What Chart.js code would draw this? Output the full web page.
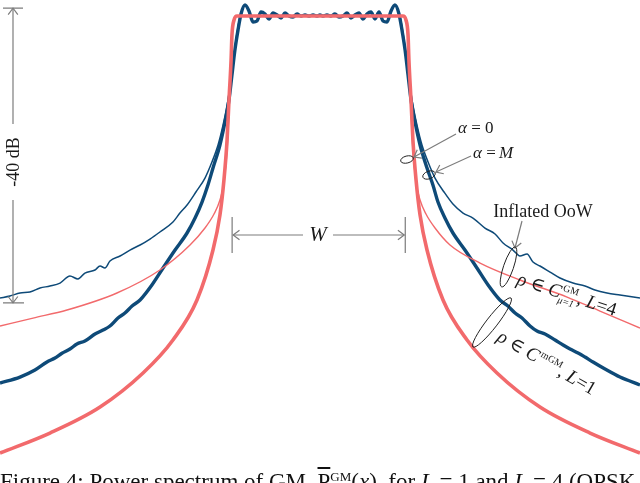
<!DOCTYPE html>
<html>
<head>
<meta charset="utf-8">
<script src="https://cdn.jsdelivr.net/npm/chart.js@4/dist/chart.umd.min.js"></script>
<style>
  html, body { margin: 0; padding: 0; width: 640px; height: 483px; overflow: hidden; background: #fff; }
  #wrap { position: relative; width: 640px; height: 483px; overflow: hidden; }
  #caption {
    position: absolute; left: 0; top: 470px; white-space: nowrap;
    font: 23px/23px 'Liberation Serif', 'DejaVu Serif', serif; color: #111;
  }
  #caption .ol { text-decoration: overline; }
  #caption sup { font-size: 13px; vertical-align: 8px; line-height: 0; }
</style>
</head>
<body>
<div id="wrap">
  <canvas id="psd" width="640" height="483"></canvas>
  <div id="caption">Figure 4: Power spectrum of GM, <span class="ol">P</span><sup>GM</sup>(<i>x</i>), for <i>L</i> = 1 and <i>L</i> = 4 (QPSK,</div>
</div>
<script>
// frequency normalised to the band width W (band edges at +-0.5), PSD in dB
const bandFreq = [-0.431, -0.408, -0.385, -0.362, -0.339, -0.316, -0.293, -0.270, -0.247, -0.224,
  -0.201, -0.178, -0.155, -0.132, -0.109, -0.086, -0.063, -0.040, -0.017, 0,
  0.017, 0.040, 0.063, 0.086, 0.109, 0.132, 0.155, 0.178, 0.201, 0.224,
  0.247, 0.270, 0.293, 0.316, 0.339, 0.362, 0.385, 0.408, 0.431];
const bandDb = [1.55, 0.70, -0.85, -0.70, 0.56, 0.28, -0.42, 0.42, 0.14, -0.28,
  0.42, 0, -0.14, 0.28, 0, 0.14, 0, 0.14, 0, 0.14,
  0, 0.14, 0, 0.28, -0.14, 0, 0.42, -0.28, 0.14, 0.42,
  -0.42, 0.28, 0.56, -0.42, 0.56, -0.70, -0.85, 0.70, 1.55];

// simulated mGM, L = 1 (thick blue)
const mgmSimFreq = [-1.839, -1.724, -1.638, -1.569, -1.523, -1.483, -1.437, -1.397, -1.351, -1.293,
  -1.247, -1.207, -1.161, -1.121, -1.080, -1.034, -0.966, -0.902, -0.833, -0.764,
  -0.718, -0.678, -0.644, -0.615, -0.575, -0.546, -0.523, -0.506, -0.489, -0.471, -0.454,
  ...bandFreq,
  0.454, 0.471, 0.489, 0.506, 0.523, 0.546, 0.575, 0.615, 0.649, 0.678,
  0.718, 0.764, 0.833, 0.902, 0.966, 1.034, 1.080, 1.121, 1.161, 1.207,
  1.247, 1.293, 1.351, 1.397, 1.437, 1.483, 1.523, 1.569, 1.638, 1.724, 1.839];
const mgmSimDb = [-51.69, -50.85, -49.86, -48.73, -48.17, -47.50, -46.90, -46.20, -45.77, -44.79,
  -44.23, -43.66, -42.54, -41.83, -40.85, -40.0, -37.89, -35.49, -32.96, -30.56,
  -28.45, -26.20, -23.80, -21.41, -18.17, -14.93, -11.83, -8.31, -4.79, -1.97, 0.28,
  ...bandDb,
  0.28, -1.97, -4.79, -8.31, -11.83, -14.93, -18.17, -21.41, -23.80, -26.20,
  -28.45, -30.56, -32.96, -35.49, -37.89, -40.0, -40.85, -41.83, -42.54, -43.66,
  -44.37, -44.79, -45.63, -46.34, -46.90, -47.46, -48.03, -48.73, -49.72, -50.85, -51.97];

// simulated GM, L = 4 (thin blue, inflated out-of-band)
const gmSimFreq = [-1.839, -1.782, -1.724, -1.667, -1.609, -1.552, -1.494, -1.437, -1.391, -1.351,
  -1.293, -1.264, -1.236, -1.207, -1.149, -1.092, -1.034, -0.977, -0.920, -0.845,
  -0.805, -0.764, -0.713, -0.661, -0.621, -0.586, -0.557, -0.534, -0.511, -0.494, -0.477, -0.460,
  ...bandFreq,
  0.460, 0.477, 0.494, 0.511, 0.534, 0.557, 0.586, 0.621, 0.661, 0.713,
  0.764, 0.822, 0.879, 0.948, 1.006, 1.052, 1.109, 1.149, 1.190, 1.224,
  1.264, 1.322, 1.379, 1.454, 1.523, 1.580, 1.649, 1.724, 1.839];
const gmSimDb = [-39.72, -39.44, -39.01, -38.87, -38.31, -38.03, -37.61, -36.62, -37.04, -36.20,
  -35.77, -35.21, -35.49, -34.51, -33.80, -32.96, -32.25, -31.41, -30.42, -29.01,
  -27.75, -26.62, -24.79, -22.82, -20.56, -18.17, -15.35, -12.54, -9.01, -5.49, -2.39, -0.14,
  ...bandDb,
  -0.14, -2.39, -5.49, -9.01, -12.54, -15.35, -18.17, -20.56, -22.82, -24.79,
  -26.48, -27.75, -28.45, -29.86, -30.70, -31.97, -32.96, -33.80, -33.52, -34.65,
  -35.21, -36.06, -36.90, -37.61, -38.03, -38.59, -39.01, -39.30, -39.72];

// analytic GM, L = 4 (thin red)
const gmTheoryFreq = [-1.839, -1.649, -1.454, -1.167, -0.920, -0.747, -0.661, -0.609, -0.575, -0.552,
  -0.534, -0.523, -0.511, -0.506, -0.494, -0.477, 0.477, 0.494, 0.506, 0.511,
  0.523, 0.534, 0.552, 0.575, 0.609, 0.661, 0.747, 0.920, 1.149, 1.420, 1.609, 1.839];
const gmTheoryDb = [-43.66, -42.54, -41.41, -39.01, -35.77, -32.25, -29.86, -27.89, -25.92, -23.38,
  -18.87, -13.24, -6.20, -2.68, -0.56, 0, 0, -0.56, -2.68, -6.20,
  -13.24, -18.87, -23.38, -25.92, -27.89, -29.86, -32.25, -34.79, -37.18, -39.58, -41.55, -43.94];

// analytic mGM, L = 1 (thick red)
const mgmTheoryFreq = [-1.839, -1.552, -1.264, -1.017, -0.845, -0.707, -0.615, -0.575, -0.552, -0.534,
  -0.523, -0.511, -0.506, -0.494, -0.477, 0.477, 0.494, 0.506, 0.511, 0.523,
  0.534, 0.552, 0.575, 0.615, 0.707, 0.845, 1.017, 1.264, 1.552, 1.839];
const mgmTheoryDb = [-61.55, -58.73, -55.07, -50.28, -45.63, -40.0, -32.96, -28.03, -23.10, -17.46,
  -11.83, -6.20, -2.68, -0.56, 0, 0, -0.56, -2.68, -6.20, -11.83,
  -17.46, -23.10, -28.03, -32.96, -40.0, -45.63, -50.28, -55.07, -58.73, -61.55];

const RED = '#f26a6c';
const BLUE = '#0e4a78';
const GREY = '#7c7c7c';
const SERIF = "'Liberation Serif', 'DejaVu Serif', serif";

function pts(fx, fy) {
  return fx.map((f, i) => ({ x: f, y: fy[i] }));
}

function arrow(ctx, x1, y1, x2, y2, head) {
  ctx.beginPath();
  ctx.moveTo(x1, y1);
  ctx.lineTo(x2, y2);
  ctx.stroke();
  const a = Math.atan2(y2 - y1, x2 - x1);
  ctx.beginPath();
  ctx.moveTo(x2 - head * Math.cos(a - 0.65), y2 - head * Math.sin(a - 0.65));
  ctx.lineTo(x2, y2);
  ctx.lineTo(x2 - head * Math.cos(a + 0.65), y2 - head * Math.sin(a + 0.65));
  ctx.stroke();
}

// "rho in C^sup_sub, L=n" written along a curve
function setLabel(ctx, x0, y0, deg, sup, sub, n) {
  ctx.save();
  ctx.translate(x0, y0);
  ctx.rotate(deg * Math.PI / 180);
  ctx.textAlign = 'left';
  ctx.textBaseline = 'alphabetic';
  let cx = 0;
  const put = (txt, font, dy) => {
    ctx.font = font;
    ctx.fillText(txt, cx, dy || 0);
    return ctx.measureText(txt).width;
  };
  cx += put('ρ', 'italic 19px ' + SERIF);
  cx += put(' ∈ ', '19px ' + SERIF);
  cx += put('C', 'italic 19px ' + SERIF);
  ctx.font = '10px ' + SERIF;
  const w1 = ctx.measureText(sup).width;
  ctx.fillText(sup, cx + 1, -8);
  let w2 = 0;
  if (sub) {
    ctx.font = 'italic 10px ' + SERIF;
    w2 = ctx.measureText(sub).width;
    ctx.fillText(sub, cx - 1, 5);
  }
  cx += Math.max(w1, w2) + 1;
  cx += put(', ', '19px ' + SERIF);
  cx += put('L', 'italic 19px ' + SERIF);
  put('=' + n, '19px ' + SERIF);
  ctx.restore();
}

const notes = {
  id: 'notes',
  afterDraw(chart) {
    const { ctx, scales: { x, y } } = chart;
    ctx.save();
    ctx.strokeStyle = GREY;
    ctx.fillStyle = '#1a1a1a';
    ctx.lineWidth = 1.2;

    // -40 dB span on the left
    const xa = 13, yt = y.getPixelForValue(1.1), yb = y.getPixelForValue(-40.4);
    ctx.beginPath();
    ctx.moveTo(3, yt); ctx.lineTo(23, yt);
    ctx.moveTo(3, yb); ctx.lineTo(24, yb);
    ctx.stroke();
    arrow(ctx, xa, 124, xa, yt, 8);
    arrow(ctx, xa, 200, xa, yb, 8);
    ctx.save();
    ctx.translate(xa + 1, 162);
    ctx.rotate(-Math.PI / 2);
    ctx.font = '18px ' + SERIF;
    ctx.textAlign = 'center';
    ctx.textBaseline = 'middle';
    ctx.fillText('-40 dB', 0, 0);
    ctx.restore();

    // band width W
    const xl = x.getPixelForValue(-0.505), xr = x.getPixelForValue(0.49), ym = 235;
    ctx.beginPath();
    ctx.moveTo(xl, 217); ctx.lineTo(xl, 253);
    ctx.moveTo(xr, 217); ctx.lineTo(xr, 253);
    ctx.stroke();
    arrow(ctx, 303, ym, xl + 1, ym, 8);
    arrow(ctx, 333, ym, xr - 1, ym, 8);
    ctx.font = 'italic 21px ' + SERIF;
    ctx.textAlign = 'center';
    ctx.textBaseline = 'middle';
    ctx.fillText('W', 318, ym);

    // alpha pointers
    arrow(ctx, 456, 134, 414, 157, 8);
    arrow(ctx, 471, 156, 436, 172, 8);
    arrow(ctx, 522, 221, 515, 248, 8);

    ctx.strokeStyle = '#222';
    ctx.lineWidth = 1;
    ctx.beginPath(); ctx.ellipse(407, 159.5, 6.5, 3.5, -0.25, 0, 2 * Math.PI); ctx.stroke();
    ctx.beginPath(); ctx.ellipse(429, 175, 6.5, 3.8, -0.35, 0, 2 * Math.PI); ctx.stroke();
    ctx.beginPath(); ctx.ellipse(508.5, 267, 5, 21, 0.33, 0, 2 * Math.PI); ctx.stroke();
    ctx.beginPath(); ctx.ellipse(492, 322.5, 5.5, 31, 0.66, 0, 2 * Math.PI); ctx.stroke();

    ctx.textAlign = 'left';
    ctx.textBaseline = 'alphabetic';
    ctx.font = 'italic 17px ' + SERIF;
    ctx.fillText('α', 458, 133);
    ctx.font = '17px ' + SERIF;
    ctx.fillText(' = 0', 467, 133);
    ctx.font = 'italic 17px ' + SERIF;
    ctx.fillText('α', 473, 158);
    ctx.font = '17px ' + SERIF;
    ctx.fillText(' = ', 482, 158);
    ctx.font = 'italic 17px ' + SERIF;
    ctx.fillText('M', 499, 158);

    ctx.font = '18px ' + SERIF;
    ctx.textAlign = 'center';
    ctx.fillText('Inflated OoW', 543, 217);

    setLabel(ctx, 516, 284, 18, 'GM', 'μ=1', 4);
    setLabel(ctx, 496, 340, 30, 'mGM', null, 1);
    ctx.restore();
  }
};

new Chart(document.getElementById('psd'), {
  type: 'line',
  data: {
    datasets: [
      { label: 'mGM theory', data: pts(mgmTheoryFreq, mgmTheoryDb), borderColor: RED, borderWidth: 3.6, order: 0 },
      { label: 'GM theory', data: pts(gmTheoryFreq, gmTheoryDb), borderColor: RED, borderWidth: 1.4, order: 1 },
      { label: 'mGM sim', data: pts(mgmSimFreq, mgmSimDb), borderColor: BLUE, borderWidth: 3.4, order: 2 },
      { label: 'GM sim', data: pts(gmSimFreq, gmSimDb), borderColor: BLUE, borderWidth: 1.5, order: 3 }
    ]
  },
  options: {
    responsive: false,
    devicePixelRatio: 1,
    animation: false,
    layout: { padding: 0 },
    elements: {
      point: { radius: 0 },
      line: { fill: false, cubicInterpolationMode: 'monotone' }
    },
    scales: {
      x: { type: 'linear', min: -1.839, max: 1.839, display: false },
      y: { min: -65.77, max: 2.254, display: false }
    },
    plugins: {
      legend: { display: false },
      tooltip: { enabled: false }
    }
  },
  plugins: [notes]
});
</script>
</body>
</html>
